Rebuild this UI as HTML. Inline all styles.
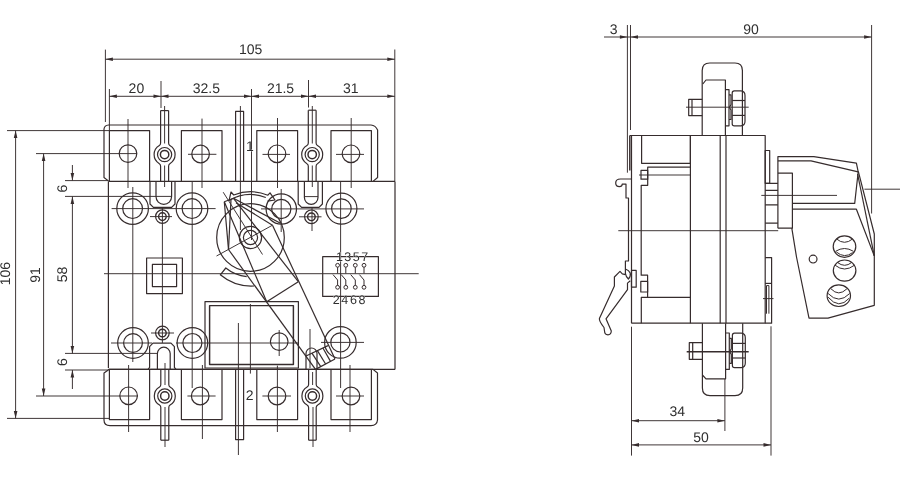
<!DOCTYPE html>
<html><head><meta charset="utf-8"><title>Dimensions</title>
<style>
html,body{margin:0;padding:0;background:#fff;}
body{width:900px;height:480px;overflow:hidden;}
svg{display:block;}
svg .m{stroke:#362c2d;stroke-width:1.2;fill:none;stroke-linecap:butt;stroke-linejoin:round;}
svg .k{stroke:#362c2d;stroke-width:1.45;fill:none;stroke-linejoin:round;}
svg .t{stroke:#362c2d;stroke-width:0.95;fill:none;}
svg .t2{stroke:#362c2d;stroke-width:1.0;fill:none;}
svg .a{fill:#362c2d;stroke:none;}
svg text{font-family:"Liberation Sans",sans-serif;fill:#362c2d;stroke:#fff;stroke-width:0.45px;paint-order:stroke;text-rendering:geometricPrecision;}
svg g.tx{filter:grayscale(1);}
</style></head>
<body>
<svg width="900" height="480" viewBox="0 0 900 480">
<rect x="0" y="0" width="900" height="480" fill="#ffffff"/>
<line class="t" x1="105.4" y1="49.6" x2="105.4" y2="122"/>
<line class="t" x1="394.8" y1="49.5" x2="394.8" y2="181.4"/>
<line class="t" x1="105.4" y1="59.2" x2="394.8" y2="59.2"/>
<polygon class="a" points="105.40,59.20 112.90,57.40 112.90,61.00"/>
<polygon class="a" points="394.80,59.20 387.30,57.40 387.30,61.00"/>
<line class="t" x1="109.4" y1="89" x2="109.4" y2="130.6"/>
<line class="t" x1="161" y1="81" x2="161" y2="108"/>
<line class="t" x1="251.5" y1="89" x2="251.5" y2="240"/>
<line class="t" x1="308.5" y1="80" x2="308.5" y2="107.5"/>
<line class="t" x1="109.4" y1="96.3" x2="394.8" y2="96.3"/>
<polygon class="a" points="109.40,96.30 116.90,94.50 116.90,98.10"/>
<polygon class="a" points="161.00,96.30 168.50,94.50 168.50,98.10"/>
<polygon class="a" points="251.50,96.30 259.00,94.50 259.00,98.10"/>
<polygon class="a" points="308.50,96.30 316.00,94.50 316.00,98.10"/>
<polygon class="a" points="161.00,96.30 153.50,94.50 153.50,98.10"/>
<polygon class="a" points="251.50,96.30 244.00,94.50 244.00,98.10"/>
<polygon class="a" points="308.50,96.30 301.00,94.50 301.00,98.10"/>
<polygon class="a" points="394.80,96.30 387.30,94.50 387.30,98.10"/>
<line class="t" x1="15.6" y1="130.6" x2="15.6" y2="418.4"/>
<polygon class="a" points="15.60,130.60 13.80,138.10 17.40,138.10"/>
<polygon class="a" points="15.60,418.40 13.80,410.90 17.40,410.90"/>
<line class="t" x1="7" y1="130.6" x2="109.4" y2="130.6"/>
<line class="t" x1="7" y1="418.4" x2="109.6" y2="418.4"/>
<line class="t" x1="43.6" y1="153.6" x2="43.6" y2="396"/>
<polygon class="a" points="43.60,153.60 41.80,161.10 45.40,161.10"/>
<polygon class="a" points="43.60,396.00 41.80,388.50 45.40,388.50"/>
<line class="t" x1="36" y1="153.6" x2="137" y2="153.6"/>
<line class="t" x1="36" y1="396" x2="138" y2="396"/>
<line class="t" x1="72.4" y1="196.4" x2="72.4" y2="353.4"/>
<polygon class="a" points="72.40,196.40 70.60,203.90 74.20,203.90"/>
<polygon class="a" points="72.40,353.40 70.60,345.90 74.20,345.90"/>
<line class="t" x1="65" y1="196.4" x2="171.6" y2="196.4"/>
<line class="t" x1="65" y1="353.4" x2="157.4" y2="353.4"/>
<line class="t" x1="304.4" y1="196.6" x2="318" y2="196.6"/>
<line class="t" x1="65" y1="180.6" x2="108" y2="180.6"/>
<line class="t" x1="72.4" y1="165" x2="72.4" y2="180.6"/>
<polygon class="a" points="72.40,180.60 70.60,173.10 74.20,173.10"/>
<line class="t" x1="65" y1="370" x2="108" y2="370"/>
<line class="t" x1="72.4" y1="370" x2="72.4" y2="389"/>
<polygon class="a" points="72.40,370.00 70.60,377.50 74.20,377.50"/>
<path class="m" d="M108.5,125 H371 Q375.5,125.3 377.6,130 V177.5 L373,181.4 H109 L104,177.5 V129 Q104.5,125.3 108.5,125 Z" fill="none"/>
<path class="m" d="M109,369.4 H373 L377.5,373 V420 Q377,425.6 371,425.6 H110 Q104,425.6 104,420 V373 Z" fill="none"/>
<path class="m" d="M109.4,181.4 V130.6 H149.6 V181.4" fill="none"/>
<path class="m" d="M109.4,369.4 V419.6 H149.6 V369.4" fill="none"/>
<path class="m" d="M181.4,181.4 V130.6 H222 V181.4" fill="none"/>
<path class="m" d="M181.4,369.4 V419.6 H222 V369.4" fill="none"/>
<path class="m" d="M256.8,181.4 V130.6 H297.6 V181.4" fill="none"/>
<path class="m" d="M256.8,369.4 V419.6 H297.6 V369.4" fill="none"/>
<path class="m" d="M331,181.4 V130.6 H371.4 V181.4" fill="none"/>
<path class="m" d="M331,369.4 V419.6 H371.4 V369.4" fill="none"/>
<circle class="m" cx="128" cy="153.6" r="8.8" fill="none"/>
<circle class="m" cx="200.6" cy="154" r="8.8" fill="none"/>
<circle class="m" cx="277" cy="153.8" r="8.8" fill="none"/>
<circle class="m" cx="351" cy="153.8" r="8.8" fill="none"/>
<circle class="m" cx="128.6" cy="395.8" r="8.8" fill="none"/>
<circle class="m" cx="200.2" cy="396" r="8.8" fill="none"/>
<circle class="m" cx="277" cy="396" r="8.8" fill="none"/>
<circle class="m" cx="351" cy="396" r="8.8" fill="none"/>
<line class="t" x1="128" y1="119" x2="128" y2="188"/>
<line class="t" x1="202" y1="118.6" x2="202" y2="188"/>
<line class="t" x1="277.5" y1="118" x2="277.5" y2="188"/>
<line class="t" x1="351.2" y1="118" x2="351.2" y2="188"/>
<line class="t" x1="188" y1="154.3" x2="216.4" y2="154.3"/>
<line class="t" x1="262.5" y1="154.4" x2="290" y2="154.4"/>
<line class="t" x1="336" y1="154.4" x2="364" y2="154.4"/>
<line class="t" x1="128.6" y1="365" x2="128.6" y2="432"/>
<line class="t" x1="202.4" y1="365" x2="202.4" y2="439"/>
<line class="t" x1="277.4" y1="365.6" x2="277.4" y2="432"/>
<line class="t" x1="350" y1="365" x2="350" y2="432"/>
<line class="t" x1="187.4" y1="396" x2="215.6" y2="396"/>
<line class="t" x1="262.4" y1="396" x2="291" y2="396"/>
<line class="t" x1="336" y1="396" x2="364" y2="396"/>
<path class="m" d="M160.6,110.6 V143.0 Q160.6,144.79999999999998 159.35,145.51 A10.5,10.5 0 0 0 159.35,163.69 Q160.6,164.4 160.6,166.2 V181.4" fill="none"/>
<path class="m" d="M168.6,110.6 V143.0 Q168.6,144.79999999999998 169.85,145.51 A10.5,10.5 0 0 1 169.85,163.69 Q168.6,164.4 168.6,166.2 V181.4" fill="none"/>
<circle class="m" cx="164.6" cy="154.6" r="7.1" fill="none"/>
<circle class="k" cx="164.6" cy="154.6" r="4.2" fill="none"/>
<line class="m" x1="160.6" y1="110.6" x2="168.6" y2="110.6"/>
<path class="m" d="M308.3,110.2 V143.0 Q308.3,144.79999999999998 306.95,145.51 A10.5,10.5 0 0 0 306.95,163.69 Q308.3,164.4 308.3,166.2 V181.4" fill="none"/>
<path class="m" d="M316.09999999999997,110.2 V143.0 Q316.09999999999997,144.79999999999998 317.45,145.51 A10.5,10.5 0 0 1 317.45,163.69 Q316.09999999999997,164.4 316.09999999999997,166.2 V181.4" fill="none"/>
<circle class="m" cx="312.2" cy="154.6" r="7.1" fill="none"/>
<circle class="k" cx="312.2" cy="154.6" r="4.2" fill="none"/>
<line class="m" x1="308.3" y1="110.2" x2="316.1" y2="110.2"/>
<line class="t" x1="164.6" y1="106" x2="164.6" y2="143.5"/>
<line class="t" x1="164.6" y1="165.5" x2="164.6" y2="187"/>
<line class="t" x1="312.3" y1="106" x2="312.3" y2="143.5"/>
<line class="t" x1="312.3" y1="165.5" x2="312.3" y2="187"/>
<path class="m" d="M235.6,181.4 V111.4 H243.6 V181.4" fill="none"/>
<line class="t" x1="240.4" y1="106" x2="240.4" y2="230"/>
<path class="m" d="M160.8,369.4 V384.4 Q160.8,386.2 159.55,386.91 A10.5,10.5 0 0 0 159.55,405.09 Q160.8,405.8 160.8,407.6 V440.2" fill="none"/>
<path class="m" d="M168.8,369.4 V384.4 Q168.8,386.2 170.05,386.91 A10.5,10.5 0 0 1 170.05,405.09 Q168.8,405.8 168.8,407.6 V440.2" fill="none"/>
<circle class="m" cx="164.8" cy="396" r="7.1" fill="none"/>
<circle class="k" cx="164.8" cy="396" r="4.2" fill="none"/>
<line class="m" x1="160.8" y1="440.2" x2="168.8" y2="440.2"/>
<path class="m" d="M308.59999999999997,369.4 V384.4 Q308.59999999999997,386.2 307.15,386.91 A10.5,10.5 0 0 0 307.15,405.09 Q308.59999999999997,405.8 308.59999999999997,407.6 V440.2" fill="none"/>
<path class="m" d="M316.2,369.4 V384.4 Q316.2,386.2 317.65,386.91 A10.5,10.5 0 0 1 317.65,405.09 Q316.2,405.8 316.2,407.6 V440.2" fill="none"/>
<circle class="m" cx="312.4" cy="396" r="7.1" fill="none"/>
<circle class="k" cx="312.4" cy="396" r="4.2" fill="none"/>
<line class="m" x1="308.6" y1="440.2" x2="316.2" y2="440.2"/>
<line class="t" x1="165" y1="363" x2="165" y2="385"/>
<line class="t" x1="165" y1="407" x2="165" y2="447"/>
<line class="t" x1="313" y1="407" x2="313" y2="447"/>
<line class="t" x1="312.6" y1="372" x2="312.6" y2="385"/>
<path class="m" d="M235.6,369.4 V439.6 H243.6 V369.4" fill="none"/>
<line class="t" x1="238.4" y1="323" x2="238.4" y2="455"/>
<path class="m" d="M108.4,181.4 V368 M395,181.4 V369.4 M108.4,369.4 H395 M373,181.4 H395" fill="none"/>
<path class="m" d="M150,181.4 V204.0 L153.4,207.4 H171.6 L175,204.0 V181.4" fill="none"/>
<path class="m" d="M156,181.4 V196.60000000000002 A7.799999999999997,7.799999999999997 0 0 0 171.6,196.60000000000002 V181.4" fill="none"/>
<path class="m" d="M298.2,181.4 V204.0 L301.59999999999997,207.4 H319.0 L322.4,204.0 V181.4" fill="none"/>
<path class="m" d="M304.4,181.4 V197.6 A6.800000000000011,6.800000000000011 0 0 0 318,197.6 V181.4" fill="none"/>
<path class="m" d="M148.1,369.4 L149.6,367.4 V346.59999999999997 L153.0,343.2 H171.0 L174.4,346.59999999999997 V367.4 L175.9,369.4" fill="none"/>
<path class="m" d="M157.4,369.4 V353.59999999999997 A6.3999999999999915,6.3999999999999915 0 0 1 170.2,353.59999999999997 V369.4" fill="none"/>
<path class="m" d="M306,369.4 V353.5 A5.5,5.5 0 0 1 317,353.5 V369.4" fill="none"/>
<circle class="m" cx="132.6" cy="208.6" r="15.8" fill="none"/>
<circle class="m" cx="132.6" cy="208.6" r="9.9" fill="none"/>
<circle class="m" cx="192" cy="208.6" r="15.8" fill="none"/>
<circle class="m" cx="192" cy="208.6" r="9.9" fill="none"/>
<circle class="m" cx="341.4" cy="208.6" r="15.5" fill="none"/>
<circle class="m" cx="341.4" cy="208.6" r="9.8" fill="none"/>
<circle class="m" cx="133" cy="343" r="15.3" fill="none"/>
<circle class="m" cx="133" cy="343" r="9.4" fill="none"/>
<circle class="m" cx="192.4" cy="343" r="15.3" fill="none"/>
<circle class="m" cx="192.4" cy="343" r="9.5" fill="none"/>
<circle class="m" cx="340.4" cy="342.4" r="15.8" fill="none"/>
<circle class="m" cx="340.4" cy="342.4" r="9.6" fill="none"/>
<circle class="m" cx="281.3" cy="209" r="15.2" fill="none"/>
<circle class="m" cx="281.3" cy="209" r="9.6" fill="none"/>
<line class="t" x1="111.6" y1="208.6" x2="215.6" y2="208.6"/>
<line class="t" x1="261" y1="208.9" x2="364" y2="208.9"/>
<line class="t" x1="111" y1="343" x2="152" y2="343"/>
<line class="t" x1="176" y1="343" x2="298" y2="343"/>
<line class="t" x1="321" y1="342.4" x2="364" y2="342.4"/>
<line class="t" x1="132.8" y1="187" x2="132.8" y2="362"/>
<line class="t" x1="192.2" y1="181.4" x2="192.2" y2="388"/>
<line class="t" x1="340.6" y1="181.4" x2="340.6" y2="388"/>
<line class="t" x1="281.2" y1="189" x2="281.2" y2="232"/>
<circle class="m" cx="162.4" cy="216.6" r="6.8" fill="none"/>
<circle class="k" cx="162.4" cy="216.6" r="3.8" fill="none"/>
<circle class="m" cx="311.4" cy="216.8" r="6.8" fill="none"/>
<circle class="k" cx="311.4" cy="216.8" r="3.8" fill="none"/>
<circle class="m" cx="162.4" cy="333" r="6.8" fill="none"/>
<circle class="k" cx="162.4" cy="333" r="3.8" fill="none"/>
<line class="t" x1="150" y1="216.6" x2="172" y2="216.6"/>
<line class="t" x1="299" y1="216.8" x2="321.5" y2="216.8"/>
<line class="t" x1="151" y1="333" x2="174" y2="333"/>
<line class="t" x1="162.4" y1="208" x2="162.4" y2="343"/>
<line class="t" x1="312" y1="208" x2="312" y2="231"/>
<line class="t" x1="310" y1="329" x2="310" y2="368"/>
<rect class="m" x="146.6" y="258" width="35.8" height="35.6" fill="none"/>
<rect class="m" x="152.4" y="264.4" width="24.2" height="22.2" fill="none"/>
<rect class="m" x="205" y="301.6" width="93.4" height="66.4" fill="none"/>
<rect class="k" x="209.6" y="305.6" width="83.8" height="58.8" fill="none"/>
<line class="t" x1="250.4" y1="304" x2="250.4" y2="373.6"/>
<circle class="m" cx="279.2" cy="341.6" r="8.8" fill="none"/>
<line class="t" x1="279.2" y1="330" x2="279.2" y2="356"/>
<line class="t" x1="104" y1="273.7" x2="418.7" y2="273.7"/>
<rect class="m" x="322.7" y="256.7" width="55.7" height="39.7" fill="none"/>
<circle class="t2" cx="337.6" cy="265.3" r="1.9" fill="none"/>
<circle class="t2" cx="337.6" cy="287.3" r="1.9" fill="none"/>
<line class="t2" x1="337.6" y1="267.2" x2="337.6" y2="273.4"/>
<path class="t2" d="M337.6,285.4 V280 L333.0,274.6" fill="none"/>
<circle class="t2" cx="345.8" cy="265.3" r="1.9" fill="none"/>
<circle class="t2" cx="345.8" cy="287.3" r="1.9" fill="none"/>
<line class="t2" x1="345.8" y1="267.2" x2="345.8" y2="273.4"/>
<path class="t2" d="M345.8,285.4 V280 L341.2,274.6" fill="none"/>
<circle class="t2" cx="355.3" cy="265.3" r="1.9" fill="none"/>
<circle class="t2" cx="355.3" cy="287.3" r="1.9" fill="none"/>
<line class="t2" x1="355.3" y1="267.2" x2="355.3" y2="273.4"/>
<path class="t2" d="M355.3,285.4 V280 L350.7,274.6" fill="none"/>
<circle class="t2" cx="364" cy="265.3" r="1.9" fill="none"/>
<circle class="t2" cx="364" cy="287.3" r="1.9" fill="none"/>
<line class="t2" x1="364" y1="267.2" x2="364" y2="273.4"/>
<path class="t2" d="M364,285.4 V280 L359.4,274.6" fill="none"/>
<circle class="m" cx="250.5" cy="237.5" r="33.8" fill="none"/>
<circle class="m" cx="250.5" cy="237.5" r="11.1" fill="none"/>
<circle class="m" cx="250.5" cy="237.5" r="7.1" fill="none"/>
<line class="t" x1="216.5" y1="256" x2="272.5" y2="225.2"/>
<line class="t" x1="223.2" y1="192.2" x2="262.5" y2="254.5"/>
<line class="m" x1="224.3" y1="201.7" x2="233.5" y2="198.3"/>
<line class="m" x1="224.3" y1="201.7" x2="228.5" y2="249.5"/>
<line class="m" x1="231" y1="199.4" x2="228.5" y2="249.5"/>
<line class="m" x1="233.5" y1="198.3" x2="280.5" y2="223.3"/>
<line class="m" x1="236" y1="202.8" x2="272.5" y2="225.2"/>
<line class="m" x1="228.5" y1="249.5" x2="315.5" y2="369.4"/>
<line class="m" x1="272.5" y1="225.2" x2="335" y2="359"/>
<line class="m" x1="224.3" y1="201.7" x2="266.7" y2="301.7"/>
<line class="m" x1="233.5" y1="198.3" x2="298.3" y2="281.7"/>
<line class="m" x1="266.7" y1="301.7" x2="298.3" y2="281.7"/>
<path class="m" d="M306,356 L328,345.6 M335,359 L315.5,369.4" fill="none"/>
<line class="m" x1="311.9" y1="353.2" x2="320.8" y2="366.6"/>
<line class="m" x1="317.4" y1="350.6" x2="325.6" y2="364.0"/>
<line class="m" x1="322.9" y1="348.0" x2="330.5" y2="361.4"/>
<path class="m" d="M229.1,200.4 L231,192 L233.7,195.0 A45.7,45.7 0 0 1 267.9,195.2 L270,192.8 L275,200 L267.5,201.2" fill="none"/>
<path class="m" d="M229.1,200.4 A42.8,42.8 0 0 1 265.8,197.5" fill="none"/>
<path class="m" d="M246.7,276.6 A39.3,39.3 0 0 1 225.8,268.0 L220.3,274.8 A48.3,48.3 0 0 0 254.1,286.0" fill="none"/>
<line class="t" x1="627.4" y1="25" x2="627.4" y2="172.7"/>
<line class="t" x1="630.5" y1="25" x2="630.5" y2="130"/>
<line class="t" x1="604" y1="37" x2="871.6" y2="37"/>
<polygon class="a" points="627.40,37.00 619.90,35.20 619.90,38.80"/>
<polygon class="a" points="630.50,37.00 638.00,35.20 638.00,38.80"/>
<polygon class="a" points="871.60,37.00 864.10,35.20 864.10,38.80"/>
<line class="t" x1="871.6" y1="25" x2="871.6" y2="213.5"/>
<line class="t" x1="631.5" y1="326.7" x2="631.5" y2="455.6"/>
<line class="t" x1="771" y1="326.3" x2="771" y2="455.6"/>
<line class="t" x1="724.9" y1="379" x2="724.9" y2="431"/>
<line class="t" x1="631.5" y1="420.7" x2="724.9" y2="420.7"/>
<polygon class="a" points="631.50,420.70 639.00,418.90 639.00,422.50"/>
<polygon class="a" points="724.90,420.70 717.40,418.90 717.40,422.50"/>
<line class="t" x1="631.5" y1="444.9" x2="771" y2="444.9"/>
<polygon class="a" points="631.50,444.90 639.00,443.10 639.00,446.70"/>
<polygon class="a" points="771.00,444.90 763.50,443.10 763.50,446.70"/>
<path class="m" d="M702.2,135.5 V70.5 Q702.2,63 709.7,63 H735 Q742.4,63 742.4,70.5 V135.5" fill="none"/>
<path class="m" d="M702.8,84 L706,80 H725.4 V135.5" fill="none"/>
<path class="m" d="M725.4,89.6 H729 V125.8 H725.4" fill="none"/>
<path class="m" d="M729,94.9 H731 V104.6 L729.4,107.4 L731,110 V119.5 H729" fill="none"/>
<path class="m" d="M732.2,93 Q732.2,90.9 734.3,90.9 H741 Q745,91.2 745,95.5 V121.3 Q745,125.6 741,125.8 H734.3 Q732.2,125.8 732.2,123.7 Z" fill="none"/>
<line class="m" x1="732.2" y1="100.5" x2="745" y2="100.5"/>
<line class="m" x1="732.2" y1="115.4" x2="745" y2="115.4"/>
<path class="m" d="M702.2,99.3 H688.7 V115.6 H702.2" fill="none"/>
<line class="m" x1="692" y1="99.3" x2="692" y2="115.6"/>
<line class="t" x1="686" y1="107.2" x2="748.7" y2="107.2"/>
<path class="m" d="M702.4,323.2 V388 Q702.4,395.6 710,395.6 H735 Q742.7,395.6 742.7,388 V323.2" fill="none"/>
<path class="m" d="M702.4,375 L706,378.8 H725.6 V323.2" fill="none"/>
<path class="m" d="M725.6,333 H729.3 V369.4 H725.6" fill="none"/>
<path class="m" d="M729.3,338.4 H731.3 V348.8 L729.7,351.6 L731.3,354.4 V363.4 H729.3" fill="none"/>
<path class="m" d="M732.4,335.3 Q732.4,333.2 734.5,333.2 H741.3 Q745.3,333.5 745.3,337.8 V363 Q745.3,367.3 741.3,367.6 H734.5 Q732.4,367.6 732.4,365.5 Z" fill="none"/>
<line class="m" x1="732.4" y1="343.4" x2="745.3" y2="343.4"/>
<line class="m" x1="732.4" y1="358" x2="745.3" y2="358"/>
<path class="m" d="M702.4,342.7 H689.3 V359.3 H702.4" fill="none"/>
<line class="m" x1="692.7" y1="342.7" x2="692.7" y2="359.3"/>
<line class="k" x1="686.7" y1="351.7" x2="748.7" y2="351.7"/>
<path class="m" d="M629.8,135.5 H765.2 V323.2 H631.4" fill="none"/>
<path class="k" d="M629.8,135.5 V170.5" fill="none"/>
<line class="m" x1="631.5" y1="135.5" x2="631.5" y2="323.2"/>
<rect class="m" x="641.6" y="135.5" width="48.8" height="27.8" fill="none"/>
<line class="m" x1="690.4" y1="135.5" x2="690.4" y2="323.2"/>
<line class="m" x1="720.2" y1="135.5" x2="720.2" y2="323.2"/>
<line class="m" x1="726" y1="135.5" x2="726" y2="323.2"/>
<path class="m" d="M690.4,167.2 H647.7 V185.3 H641.2 V275.2 H647.6 V297.4" fill="none"/>
<rect class="m" x="641" y="170.4" width="6.7" height="8.8" fill="none"/>
<line class="t" x1="639" y1="175" x2="690.4" y2="175"/>
<rect class="m" x="640.8" y="281.4" width="6.8" height="10.6" fill="none"/>
<path class="m" d="M690.4,297.4 H641.3 V323.2" fill="none"/>
<path class="m" d="M631.5,179 H620.5 Q615.7,179 615.7,183 Q615.7,186.6 619.5,186.6 Q622.2,186.6 622.2,184.2 H626 V198 H628.5 V261 H625.4 V274.7" fill="none"/>
<path class="m" d="M625.4,269 Q629,270.3 630.2,273 Q631,276.5 628.4,279 Q625.8,276.5 625.4,273.2" fill="none"/>
<rect class="m" x="631.5" y="270.4" width="4.7" height="16.8" fill="none"/>
<path class="m" d="M630.3,280.8 L627.5,283.1 V289.7 L606,318.8 L611.3,331 Q611,334.8 608,334.8 Q604.6,334.6 604.6,331.5 L604,327.5 Q599,321 599.4,318.6 L614.4,286 V277 L620,271.4 L622.3,273.8 L625.4,274.7" fill="none"/>
<line class="t" x1="618.3" y1="230.7" x2="778.2" y2="230.7"/>
<rect class="m" x="765.2" y="150.5" width="4.5" height="32.8" fill="none"/>
<path class="m" d="M765.2,257.6 H771.6 V323.2 H765.2" fill="none"/>
<line class="m" x1="765.2" y1="283.4" x2="771.6" y2="283.4"/>
<path class="t2" d="M766.5,313.7 V285.6 H768.9 V313.7" fill="none"/>
<line class="t" x1="763" y1="298.6" x2="773.5" y2="298.6"/>
<path class="m" d="M765.2,183.3 H777.9 M765.2,190.4 H777.9 M765.2,204.9 H777.9 M765.2,223.1 H777.9" fill="none"/>
<path class="m" d="M777.9,228.2 V156.7 H813.8 L856.4,163.2 L858.2,171.8" fill="none"/>
<path class="m" d="M777.9,160.8 H811 L858.2,171.8" fill="none"/>
<path class="m" d="M777.9,173.2 H792.4 V228.2 H777.9" fill="none"/>
<line class="t" x1="761.3" y1="195.4" x2="837" y2="195.4"/>
<path class="m" d="M792.4,203.4 H854.7 L858.2,171.8" fill="none"/>
<path class="m" d="M792.4,209.2 H856.4 L874.3,255.9" fill="none"/>
<path class="m" d="M858.3,171.3 L874.3,234 V305.3 L828,318.2 H809 L796.5,257 L791.8,228.2" fill="none"/>
<path class="m" d="M857.6,174 L874.3,255.9" fill="none"/>
<line class="t" x1="864.4" y1="189.2" x2="900" y2="189.2"/>
<circle class="m" cx="813.1" cy="259.1" r="3.9" fill="none"/>
<ellipse class="m" cx="844.5" cy="246.6" rx="11.3" ry="10.7" fill="none"/>
<path class="t2" d="M836.6,239 Q844.5,245.6 852.5,239" fill="none"/>
<path class="t2" d="M835.6,251.3 Q844.5,245.7 853.4,251.3" fill="none"/>
<path class="t2" d="M836.4,252 Q844.5,258.9 852.6,252.6" fill="none"/>
<ellipse class="m" cx="844.6" cy="270.6" rx="11.3" ry="10.6" fill="none"/>
<path class="t2" d="M835.2,265.3 Q844.4,272.7 854.4,265.3" fill="none"/>
<path class="t2" d="M837.5,262.5 Q844.7,268.1 851.6,262.5" fill="none"/>
<ellipse class="m" cx="838.8" cy="295.7" rx="11.7" ry="10.8" fill="none"/>
<path class="t2" d="M831,288.8 Q838.6,297.0 846.9,288.8" fill="none"/>
<path class="t2" d="M828.1,293.5 Q838.7,304.7 849.7,293.5" fill="none"/>
<path class="t2" d="M828.1,297.2 Q838.9,309.9 849.2,298.2" fill="none"/>
<g class="tx">
<text x="250.6" y="53.6" font-size="14" text-anchor="middle">105</text>
<text x="136.4" y="93.2" font-size="14" text-anchor="middle">20</text>
<text x="206.4" y="93.2" font-size="14" text-anchor="middle">32.5</text>
<text x="280.5" y="93.2" font-size="14" text-anchor="middle">21.5</text>
<text x="350.8" y="93.2" font-size="14" text-anchor="middle">31</text>
<text x="10.4" y="273.6" font-size="14" text-anchor="middle" transform="rotate(-90 10.4 273.6)">106</text>
<text x="39.6" y="275" font-size="14" text-anchor="middle" transform="rotate(-90 39.6 275)">91</text>
<text x="67" y="274.4" font-size="14" text-anchor="middle" transform="rotate(-90 67 274.4)">58</text>
<text x="67" y="188.5" font-size="14" text-anchor="middle" transform="rotate(-90 67 188.5)">6</text>
<text x="67" y="362" font-size="14" text-anchor="middle" transform="rotate(-90 67 362)">6</text>
<text x="352.8" y="261.3" font-size="12.5" text-anchor="middle" letter-spacing="1.5">1357</text>
<text x="349.9" y="303.6" font-size="12.5" text-anchor="middle" letter-spacing="1.6">2468</text>
<text x="250" y="150.8" font-size="14" text-anchor="middle">1</text>
<text x="249.6" y="400" font-size="14" text-anchor="middle">2</text>
<text x="613.6" y="33.6" font-size="14" text-anchor="middle">3</text>
<text x="751" y="33.6" font-size="14" text-anchor="middle">90</text>
<text x="677.3" y="415.6" font-size="14" text-anchor="middle">34</text>
<text x="701.1" y="442.2" font-size="14" text-anchor="middle">50</text>
</g>
</svg>
</body></html>
